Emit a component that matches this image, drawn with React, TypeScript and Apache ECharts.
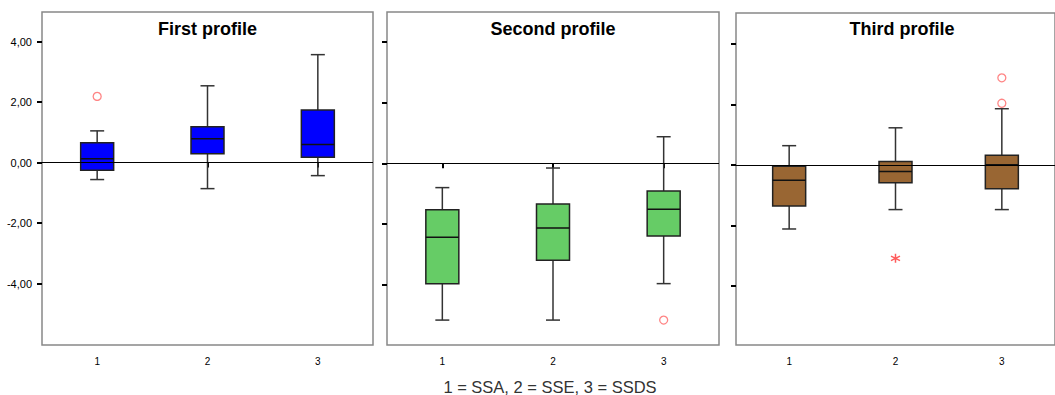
import React, { useEffect, useRef } from "react";
import * as echarts from "echarts";

const categories = ["1", "2", "3"];
const titles = ["First profile", "Second profile", "Third profile"];
const yTicks = [-4, -2, 0, 2, 4];
const footnote = "1 = SSA, 2 = SSE, 3 = SSDS";

// [low whisker, Q1, median, Q3, high whisker]
const firstBoxes = [
  [-0.56, -0.25, 0.13, 0.66, 1.05],
  [-0.86, 0.29, 0.79, 1.19, 2.54],
  [-0.43, 0.18, 0.6, 1.74, 3.57],
];
const firstOutliers = [[0, 2.19]];

const secondBoxes = [
  [-5.16, -3.96, -2.43, -1.53, -0.8],
  [-5.16, -3.19, -2.13, -1.34, -0.155],
  [-3.96, -2.39, -1.51, -0.91, 0.875],
];
const secondOutliers = [[2, -5.16]];

const thirdBoxes = [
  [-2.11, -1.35, -0.5, -0.04, 0.64],
  [-1.47, -0.58, -0.21, 0.12, 1.23],
  [-1.47, -0.78, 0.01, 0.32, 1.86],
];
const thirdOutliers = [
  [2, 2.88],
  [2, 2.04],
];
const thirdExtremes = [[1, -3.08]];

const boxColors = ["#0000ff", "#66cc66", "#996633"];

const grids = [
  { left: 42, top: 12, width: 331, height: 333, min: -6.03, max: 4.98 },
  { left: 387, top: 12, width: 332, height: 333, min: -5.98, max: 4.98 },
  { left: 736, top: 13, width: 332, height: 332, min: -5.94, max: 5.02 },
];

const asterisk =
  "path://M0,-5L0,5M-4.33,-2.5L4.33,2.5M-4.33,2.5L4.33,-2.5";

const FONT = "Arial, Liberation Sans, sans-serif";

function makeBoxSeries(idx: number, boxes: number[][], color: string) {
  return {
    type: "custom",
    xAxisIndex: idx,
    yAxisIndex: idx,
    data: boxes.map((b, i) => [i, ...b]),
    encode: { x: 0, y: [1, 2, 3, 4, 5] },
    renderItem: (params: any, api: any) => {
      const x = api.value(0);
      const lo = api.coord([x, api.value(1)]);
      const q1 = api.coord([x, api.value(2)]);
      const md = api.coord([x, api.value(3)]);
      const q3 = api.coord([x, api.value(4)]);
      const hi = api.coord([x, api.value(5)]);
      const cx = lo[0];
      const bw = 33;
      const cw = 14;
      const lineStyle = { stroke: "#333", lineWidth: 1.5 };
      return {
        type: "group",
        children: [
          { type: "line", shape: { x1: cx, y1: hi[1], x2: cx, y2: q3[1] }, style: lineStyle },
          { type: "line", shape: { x1: cx, y1: q1[1], x2: cx, y2: lo[1] }, style: lineStyle },
          { type: "line", shape: { x1: cx - cw / 2, y1: hi[1], x2: cx + cw / 2, y2: hi[1] }, style: lineStyle },
          { type: "line", shape: { x1: cx - cw / 2, y1: lo[1], x2: cx + cw / 2, y2: lo[1] }, style: lineStyle },
          {
            type: "rect",
            shape: { x: cx - bw / 2, y: q3[1], width: bw, height: q1[1] - q3[1] },
            style: { fill: color, stroke: "#222", lineWidth: 1.5 },
          },
          {
            type: "line",
            shape: { x1: cx - bw / 2, y1: md[1], x2: cx + bw / 2, y2: md[1] },
            style: { stroke: "#111", lineWidth: 1.5 },
          },
        ],
      };
    },
    markLine: {
      silent: true,
      symbol: "none",
      label: { show: false },
      lineStyle: { color: "#000", width: 1, type: "solid" },
      data: [{ yAxis: 0 }],
      z: 10,
    },
  };
}

function makeOutlierSeries(idx: number, pts: number[][]) {
  return {
    type: "scatter",
    xAxisIndex: idx,
    yAxisIndex: idx,
    data: pts,
    symbol: "circle",
    symbolSize: 8,
    itemStyle: { color: "#fff", borderColor: "#ff6666", borderWidth: 1.3 },
    z: 5,
  };
}

export default function App() {
  const ref = useRef<HTMLDivElement>(null);
  useEffect(() => {
    if (!ref.current) return;
    const chart = echarts.init(ref.current, null, { renderer: "svg" });
    const allBoxes = [firstBoxes, secondBoxes, thirdBoxes];
    const allOutliers = [firstOutliers, secondOutliers, thirdOutliers];
    const series: any[] = [];
    allBoxes.forEach((b, i) => series.push(makeBoxSeries(i, b, boxColors[i])));
    allOutliers.forEach((o, i) => series.push(makeOutlierSeries(i, o)));
    series.push({
      type: "scatter",
      xAxisIndex: 2,
      yAxisIndex: 2,
      data: thirdExtremes,
      symbol: asterisk,
      symbolSize: 9,
      itemStyle: { color: "none", borderColor: "#ff3333", borderWidth: 1.5 },
      z: 5,
    });

    chart.setOption({
      animation: false,
      backgroundColor: "#fff",
      grid: grids.map((g) => ({
        left: g.left,
        top: g.top,
        width: g.width,
        height: g.height,
        show: true,
        borderColor: "#888",
        borderWidth: 1.5,
        backgroundColor: "transparent",
      })),
      xAxis: grids.map((g, i) => ({
        type: "category",
        gridIndex: i,
        data: categories,
        boundaryGap: true,
        axisLine: { show: false },
        axisTick: {
          show: true,
          alignWithLabel: true,
          inside: false,
          length: 5,
          lineStyle: { color: "#000", width: 2 },
        },
        axisLabel: {
          show: true,
          margin: 11,
          fontSize: 10,
          fontFamily: FONT,
          color: "#000",
        },
        splitLine: { show: false },
      })),
      yAxis: grids.map((g, i) => ({
        type: "value",
        gridIndex: i,
        min: g.min,
        max: g.max,
        axisLine: { show: false },
        axisTick: {
          show: true,
          inside: false,
          length: 5,
          customValues: yTicks,
          lineStyle: { color: "#000", width: 2 },
        },
        axisLabel: {
          show: i === 0,
          customValues: yTicks,
          margin: 10,
          fontSize: 11,
          fontFamily: FONT,
          color: "#000",
          formatter: (v: number) => v.toFixed(2).replace(".", ","),
        },
        splitLine: { show: false },
      })),
      graphic: [
        ...titles.map((t, i) => ({
          type: "text",
          x: grids[i].left + grids[i].width / 2,
          y: 29,
          style: {
            text: t,
            fontSize: 18,
            fontWeight: "bold",
            fontFamily: FONT,
            fill: "#000",
            align: "center",
            verticalAlign: "middle",
          },
        })),
        {
          type: "text",
          x: 550,
          y: 387,
          style: {
            text: footnote,
            fontSize: 16.5,
            fontFamily: FONT,
            fill: "#333",
            align: "center",
            verticalAlign: "middle",
          },
        },
      ],
      series,
    });
    return () => chart.dispose();
  }, []);
  return (
    <div
      ref={ref}
      style={{ position: "fixed", left: 0, top: 0, width: 1055, height: 395 }}
    />
  );
}
